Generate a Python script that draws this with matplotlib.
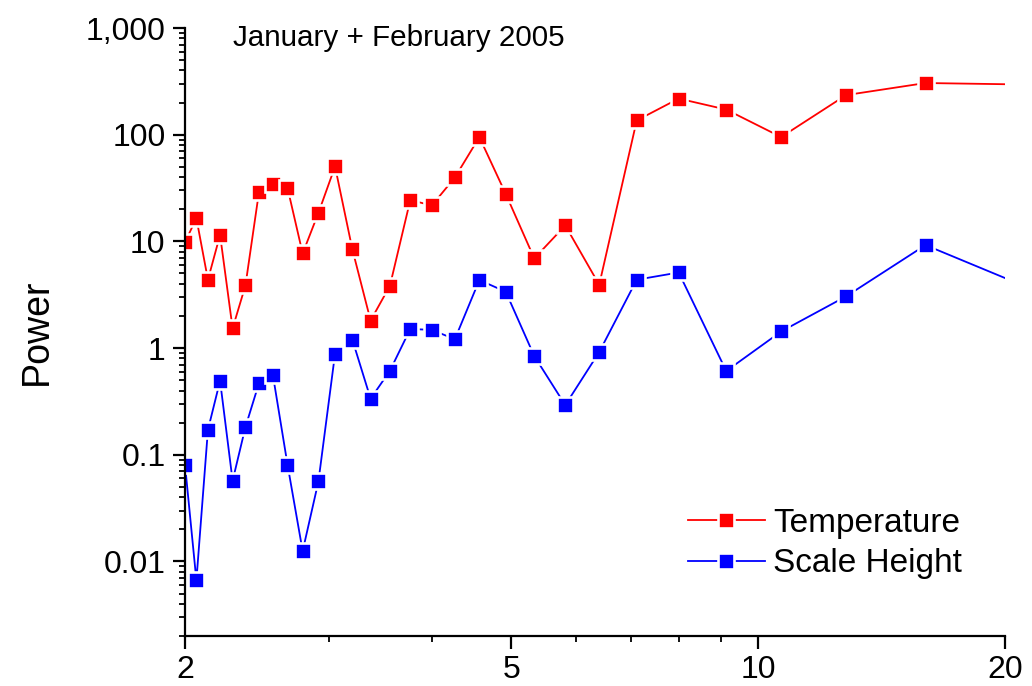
import matplotlib
matplotlib.use("Agg")
import matplotlib.pyplot as plt
from matplotlib.ticker import FixedLocator, LogLocator, NullFormatter

plt.rcParams['font.family'] = ['Liberation Sans', 'DejaVu Sans']

period = [2.0, 2.065, 2.133, 2.207, 2.286, 2.370, 2.462, 2.56, 2.667, 2.783,
          2.909, 3.048, 3.2, 3.368, 3.556, 3.765, 4.0, 4.267, 4.571, 4.923,
          5.333, 5.818, 6.4, 7.111, 8.0, 9.143, 10.667, 12.8, 16.0, 21.333]

temperature = [9.8, 16.5, 4.37, 11.5, 1.53, 3.86, 29.2, 34.4, 31.8, 7.7,
               18.5, 50.4, 8.4, 1.81, 3.84, 24.4, 21.7, 39.7, 94.9, 27.8,
               6.92, 14.1, 3.92, 136, 218, 172, 95, 235, 305, 295]

scale_height = [0.0806, 0.00664, 0.171, 0.494, 0.057, 0.182, 0.47, 0.558, 0.081, 0.0125,
                0.0562, 0.885, 1.196, 0.335, 0.613, 1.51, 1.48, 1.21, 4.34, 3.37,
                0.841, 0.292, 0.917, 4.37, 5.11, 0.609, 1.43, 3.05, 9.23, 3.69]

x_ticks = [2, 5, 10, 20]
x_ticklabels = ["2", "5", "10", "20"]
y_ticks = [0.01, 0.1, 1, 10, 100, 1000]
y_ticklabels = ["0.01", "0.1", "1", "10", "100", "1,000"]

fig = plt.figure(figsize=(10.32, 6.86), dpi=100)
ax = fig.add_axes([185/1032, 1-636/686, (1005-185)/1032, (636-28)/686])

ax.plot(period, temperature, color='#ff0000', lw=1.3, marker='s', ms=11.3,
        mfc='#ff0000', mec='white', mew=1.9, label='Temperature')
ax.plot(period, scale_height, color='#0000ff', lw=1.3, marker='s', ms=11.3,
        mfc='#0000ff', mec='white', mew=1.9, label='Scale Height')

ax.set_xscale('log')
ax.set_yscale('log')
ax.set_xlim(2, 20)
ax.set_ylim(0.002, 1000)

ax.xaxis.set_major_locator(FixedLocator(x_ticks))
ax.set_xticklabels(x_ticklabels)
ax.xaxis.set_minor_locator(FixedLocator([3, 4, 6, 7, 8, 9]))
ax.xaxis.set_minor_formatter(NullFormatter())

ax.yaxis.set_major_locator(FixedLocator(y_ticks))
ax.set_yticklabels(y_ticklabels)
ax.yaxis.set_minor_locator(LogLocator(base=10, subs=range(2, 10), numticks=20))
ax.yaxis.set_minor_formatter(NullFormatter())

for s in ['top', 'right']:
    ax.spines[s].set_visible(False)
for s in ['left', 'bottom']:
    ax.spines[s].set_linewidth(1.6)
    ax.spines[s].set_zorder(3)

ax.tick_params(which='major', direction='out', length=9, width=1.6, labelsize=23, pad=5)
ax.tick_params(which='minor', direction='out', length=4.5, width=1.3)

ax.set_ylabel('Power', fontsize=27, labelpad=22)

fig.text(233/1032, 1-38/686, 'January + February 2005', fontsize=21.3,
         va='center', ha='left')

leg = ax.legend(loc='upper left', bbox_to_anchor=(688/1032, 1-508/686),
                bbox_transform=fig.transFigure, frameon=False,
                fontsize=24, handlelength=2.3, handletextpad=0.25, labelspacing=0.28,
                borderaxespad=0, borderpad=0)

fig.savefig('out.png', dpi=100)
